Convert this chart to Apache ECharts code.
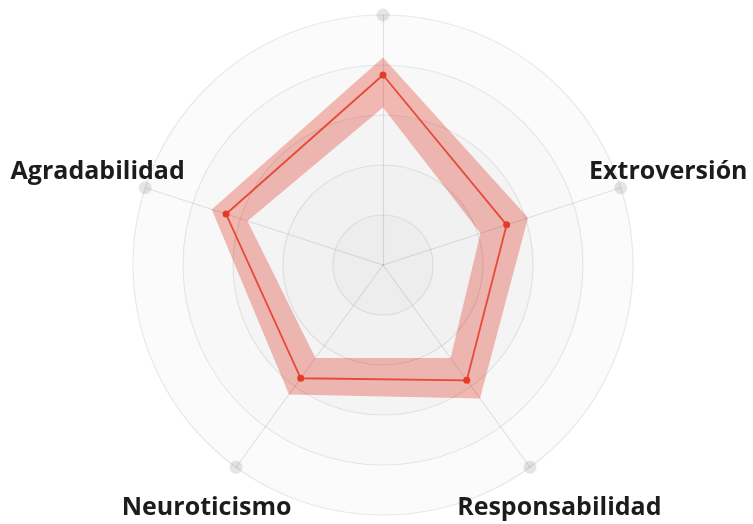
<!DOCTYPE html>
<html>
<head>
<meta charset="utf-8">
<script src="https://cdn.jsdelivr.net/npm/echarts@6/dist/echarts.min.js"></script>
<style>
  html, body { margin: 0; padding: 0; background: #ffffff; }
  #chart { width: 753px; height: 524px; }
</style>
</head>
<body>
<div id="chart"></div>
<script>
// Indicators (counter-clockwise from top)
const indicatorNames = ['', 'Agradabilidad', 'Neuroticismo', 'Responsabilidad', 'Extroversión'];
const indicatorMax = 100;
// Series values
const meanValues  = [76, 66, 56, 57, 52];
const upperValues = [83, 72, 64, 66, 61];
const lowerValues = [63, 57, 46, 46, 41];

const chart = echarts.init(document.getElementById('chart'), null, { renderer: 'canvas' });

const option = {
  backgroundColor: '#ffffff',
  animation: false,
  radar: {
    z: 3,
    center: [383, 265],
    radius: 250,
    shape: 'circle',
    splitNumber: 5,
    startAngle: 90,
    nameGap: 50,
    indicator: indicatorNames.map(n => ({ name: n, max: indicatorMax, min: 0 })),
    axisName: {
      color: '#1c1c1c',
      fontFamily: 'Open Sans',
      fontWeight: 'bold',
      fontSize: 25,
      align: 'center',
      verticalAlign: 'middle',
      padding: [5, 0, 0, 0]
    },
    splitArea: {
      show: true,
      areaStyle: {
        color: ['rgba(0,0,0,0.07)', 'rgba(0,0,0,0.055)', 'rgba(0,0,0,0.042)', 'rgba(0,0,0,0.028)', 'rgba(0,0,0,0.016)']
      }
    },
    splitLine: { lineStyle: { color: 'rgba(0,0,0,0.085)', width: 1.2 } },
    axisLine: {
      symbol: ['none', 'circle'],
      symbolSize: [13, 13],
      lineStyle: { color: 'rgba(0,0,0,0.1)', width: 1.2 }
    }
  },
  series: [
    {
      type: 'radar', z: 1, silent: true,
      symbol: 'none',
      lineStyle: { width: 0, opacity: 0 },
      areaStyle: { color: 'rgba(236,84,68,0.38)', opacity: 1 },
      data: [{ value: upperValues }]
    },
    {
      type: 'radar', z: 2, silent: true,
      symbol: 'none',
      lineStyle: { width: 0, opacity: 0 },
      areaStyle: { color: '#ffffff', opacity: 1 },
      data: [{ value: lowerValues }]
    },
    {
      type: 'radar', z: 4, silent: true,
      symbol: 'circle',
      symbolSize: 7,
      lineStyle: { color: '#e64a38', width: 1.8 },
      itemStyle: { color: '#e43a28' },
      data: [{ value: meanValues }]
    }
  ]
};
chart.setOption(option);
</script>
</body>
</html>
